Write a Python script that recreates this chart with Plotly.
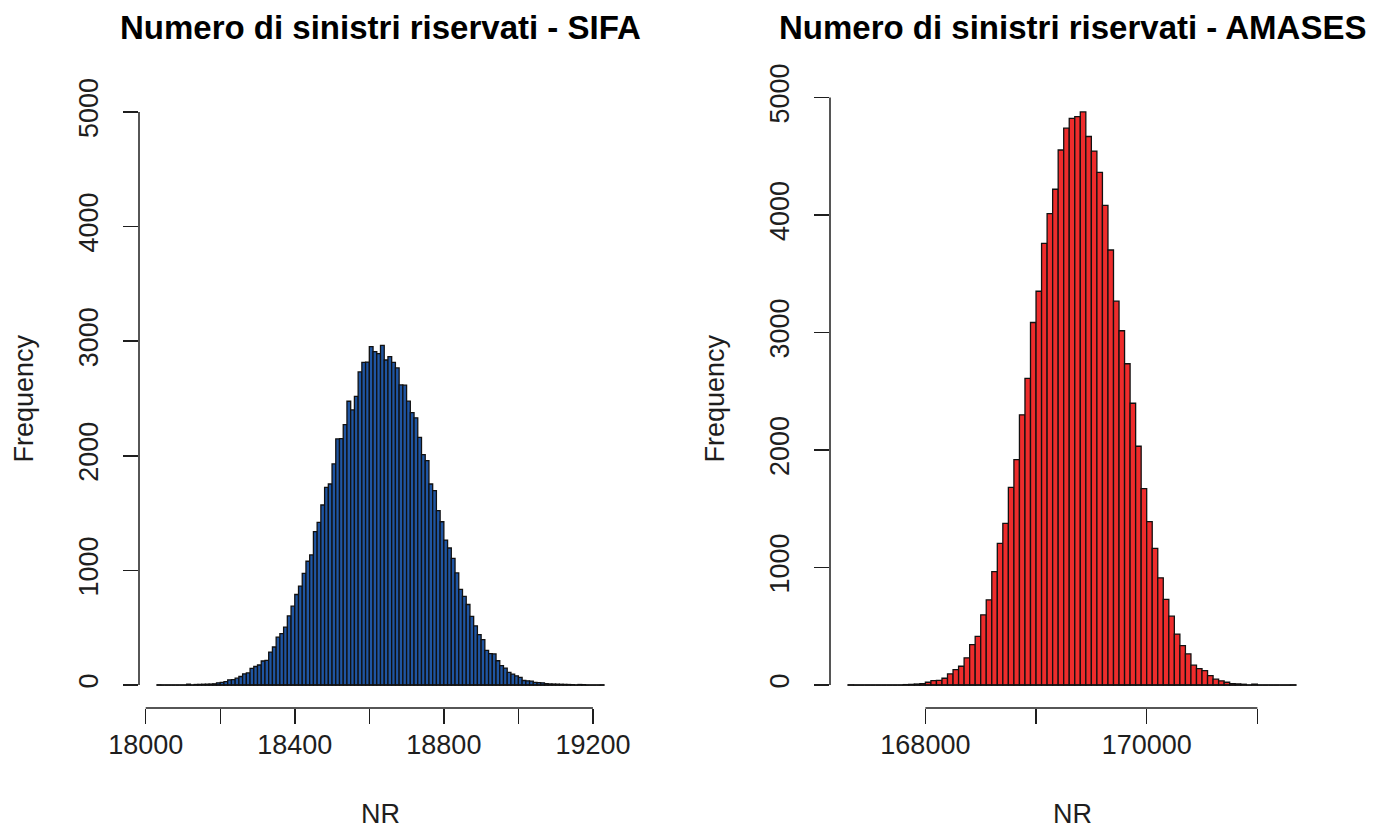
import plotly.graph_objects as go

FIG_W, FIG_H = 1389, 831

# ---- histogram counts (one value per bin) ----
sifa_start = 18030   # first break
sifa_width = 10      # bin width
sifa_counts = [
    1, 0, 0, 0, 0, 0, 0, 0, 8, 0,
    5, 6, 7, 8, 9, 11, 20, 24, 30, 46,
    48, 60, 75, 98, 106, 146, 162, 175, 210, 216,
    288, 332, 418, 448, 505, 604, 688, 790, 863, 975,
    1080, 1135, 1338, 1420, 1571, 1725, 1754, 1929, 2147, 2150,
    2272, 2476, 2400, 2519, 2732, 2816, 2818, 2953, 2909, 2891,
    2964, 2836, 2865, 2815, 2767, 2618, 2616, 2477, 2377, 2331,
    2161, 2010, 1958, 1754, 1696, 1521, 1425, 1265, 1196, 1105,
    978, 835, 774, 703, 600, 517, 440, 397, 302, 274,
    272, 212, 169, 148, 110, 96, 81, 67, 40, 37,
    35, 24, 22, 20, 12, 10, 9, 8, 7, 6,
    5, 4, 0, 5, 4, 0, 0, 0, 0, 1,
]

amases_start = 167300
amases_width = 50
amases_counts = [
    1, 0, 0, 0, 0, 0, 0, 0, 0, 0,
    4, 6, 9, 12, 24, 38, 40, 58, 95, 132,
    160, 232, 345, 415, 598, 725, 965, 1205, 1376, 1682,
    1919, 2300, 2610, 3085, 3351, 3758, 4011, 4219, 4553, 4739,
    4822, 4837, 4877, 4668, 4544, 4362, 4081, 3702, 3267, 3015,
    2734, 2398, 2032, 1671, 1390, 1163, 913, 730, 586, 434,
    335, 266, 169, 140, 123, 80, 50, 36, 24, 13,
    10, 7, 0, 8, 0, 0, 0, 0, 0, 0,
    1,
]

# ---- axis ticks ----
sifa_xticks = [18000, 18200, 18400, 18600, 18800, 19000, 19200]
sifa_xlabels = ["18000", "", "18400", "", "18800", "", "19200"]
amases_xticks = [168000, 169000, 170000, 171000]
amases_xlabels = ["168000", "", "170000", ""]
freq_ticks = [0, 1000, 2000, 3000, 4000, 5000]
freq_labels = ["0", "1000", "2000", "3000", "4000", "5000"]

titles = ["Numero di sinistri riservati - SIFA", "Numero di sinistri riservati - AMASES"]
x_title = "NR"
y_title = "Frequency"

FONT = "Liberation Sans, Arial, sans-serif"
INK = "#1e1e1e"

panels = [
    dict(counts=sifa_counts, start=sifa_start, width=sifa_width, fill="#1f55a2",
         ticks=sifa_xticks, labels=sifa_xlabels, ylim=(0, 5000),
         left=139, right=622),
    dict(counts=amases_counts, start=amases_start, width=amases_width, fill="#ee2c2c",
         ticks=amases_xticks, labels=amases_xlabels, ylim=(0, max(amases_counts)),
         left=830, right=1314),
]
plot_top, plot_bottom = 89, 708


def fx(p):
    return p / FIG_W


def fy(p):
    return 1 - p / FIG_H


fig = go.Figure()
shapes = []
annotations = []

for i, pnl in enumerate(panels, start=1):
    n = len(pnl["counts"])
    lo = pnl["start"]
    hi = pnl["start"] + n * pnl["width"]
    centers = [lo + (k + 0.5) * pnl["width"] for k in range(n)]
    xs = "x" if i == 1 else f"x{i}"
    ys = "y" if i == 1 else f"y{i}"

    fig.add_trace(go.Bar(
        x=centers, y=pnl["counts"], width=[pnl["width"]] * n,
        marker=dict(color=pnl["fill"], line=dict(color="#111111", width=1.3)),
        xaxis=xs, yaxis=ys, hoverinfo="skip", showlegend=False,
    ))

    xpad = 0.04 * (hi - lo)
    y0, y1 = pnl["ylim"]
    ypad = 0.04 * (y1 - y0)
    ax_suffix = "" if i == 1 else str(i)

    fig.update_layout(**{
        f"xaxis{ax_suffix}": dict(
            domain=[fx(pnl["left"]), fx(pnl["right"])],
            range=[lo - xpad, hi + xpad], anchor=ys, automargin=False,
            tickmode="array", tickvals=pnl["ticks"], ticktext=pnl["labels"],
            ticks="outside", ticklen=15, tickwidth=1.5, tickcolor=INK,
            showline=False, showgrid=False, zeroline=False,
            tickfont=dict(family=FONT, size=27, color=INK),
            ticklabelstandoff=-2, fixedrange=True,
        ),
        f"yaxis{ax_suffix}": dict(
            domain=[fy(plot_bottom), fy(plot_top)],
            range=[y0 - ypad, y1 + ypad], anchor=xs, automargin=False,
            tickmode="array", tickvals=freq_ticks, ticktext=freq_labels,
            ticks="outside", ticklen=15, tickwidth=1.5, tickcolor=INK,
            tickangle=-90,
            showline=False, showgrid=False, zeroline=False,
            tickfont=dict(family=FONT, size=27, color=INK),
            ticklabelstandoff=14, fixedrange=True,
        ),
    })

    xd = f"{xs} domain"
    yd = f"{ys} domain"
    line = dict(color=INK, width=1.5)
    # x axis line between the outer ticks
    shapes.append(dict(type="line", xref=xs, yref=yd, x0=pnl["ticks"][0], x1=pnl["ticks"][-1],
                       y0=0, y1=0, line=line))
    # y axis line between the outer ticks
    shapes.append(dict(type="line", xref=xd, yref=ys, x0=0, x1=0,
                       y0=freq_ticks[0], y1=freq_ticks[-1], line=line))
    # histogram baseline across all breaks
    shapes.append(dict(type="line", xref=xs, yref=ys, x0=lo, x1=hi, y0=0, y1=0,
                       line=dict(color="#111111", width=1.5)))

    cx = (pnl["left"] + pnl["right"]) / 2
    annotations.append(dict(text=f"<b>{titles[i - 1]}</b>", x=fx(cx), y=fy(28),
                            xref="paper", yref="paper", xanchor="center", yanchor="middle",
                            showarrow=False, font=dict(family=FONT, size=33, color="#000000")))
    annotations.append(dict(text=x_title, x=fx(cx), y=0,
                            xref="paper", yref="paper", xanchor="center", yanchor="bottom",
                            showarrow=False, font=dict(family=FONT, size=27, color=INK)))
    annotations.append(dict(text=y_title, x=fx(pnl["left"] - 116), y=fy((plot_top + plot_bottom) / 2),
                            xref="paper", yref="paper", xanchor="center", yanchor="middle",
                            textangle=-90, showarrow=False,
                            font=dict(family=FONT, size=27, color=INK)))

fig.update_layout(
    width=FIG_W, height=FIG_H,
    margin=dict(l=0, r=0, t=0, b=0),
    paper_bgcolor="white", plot_bgcolor="white",
    bargap=0, barmode="overlay", hovermode=False,
    shapes=shapes, annotations=annotations,
    showlegend=False,
)

fig.write_html("out.html", config={"displayModeBar": False, "staticPlot": True})
